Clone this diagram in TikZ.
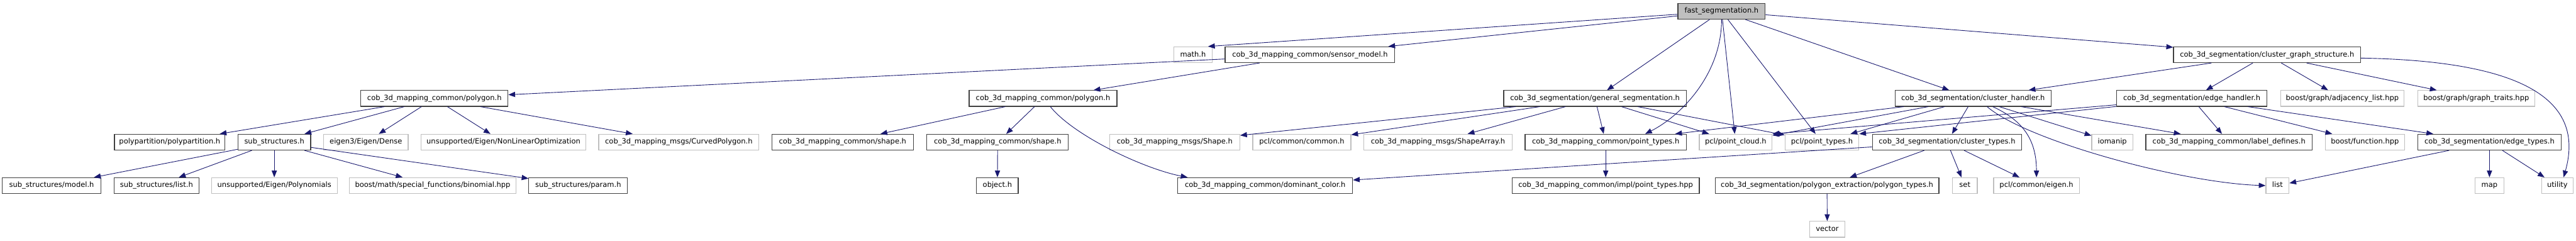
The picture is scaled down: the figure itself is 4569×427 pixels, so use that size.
\documentclass[tikz,border=0pt]{standalone}
\usepackage{fontspec}
\setmainfont{DejaVu Sans}
\usepackage{tikz}
\usetikzlibrary{arrows.meta,calc}
\definecolor{edgeblue}{HTML}{191970}
\definecolor{extgray}{HTML}{BFBFBF}
\definecolor{docgray}{HTML}{404040}

\begin{document}
\begin{tikzpicture}[x=0.5pt,y=-0.5pt,
  doc/.style={draw=docgray,line width=0.65pt,fill=white,minimum height=14pt,inner sep=1pt,
    font=\fontsize{6.4pt}{7.7pt}\selectfont,text height=4.8pt,text depth=1.4pt},
  ext/.style={doc,draw=extgray},
  wd/.style={minimum width=#1*0.5pt},
  edge/.style={draw=edgeblue,line width=0.5pt,-{Triangle[length=6pt,width=4.6pt]}}]
  \path[use as bounding box,fill=white] (0,0) rectangle (4569,427);

  \node[doc,wd=155,fill=extgray] (fastseg) at (3053.5,20) {fast\_segmentation.h};

  \node[ext,wd=68] (mathh) at (2116,97) {math.h};
  \node[doc,wd=301] (sensormodel) at (2323.5,97) {cob\_3d\_mapping\_common/sensor\_model.h};
  \node[doc,wd=332] (clustergraph) at (4021,97) {cob\_3d\_segmentation/cluster\_graph\_structure.h};

  \node[doc,wd=261] (polygonA) at (770.5,174.5) {cob\_3d\_mapping\_common/polygon.h};
  \node[doc,wd=262] (polygonB) at (1850,174.5) {cob\_3d\_mapping\_common/polygon.h};
  \node[doc,wd=324] (gensegm) at (2829,174.5) {cob\_3d\_segmentation/general\_segmentation.h};
  \node[doc,wd=277] (clusterhandler) at (3499.5,174.5) {cob\_3d\_segmentation/cluster\_handler.h};
  \node[doc,wd=267] (edgehandler) at (3887.5,174.5) {cob\_3d\_segmentation/edge\_handler.h};
  \node[ext,wd=219] (adjlist) at (4154.5,174.5) {boost/graph/adjacency\_list.hpp};
  \node[ext,wd=208] (graphtraits) at (4392,174.5) {boost/graph/graph\_traits.hpp};

  \node[doc,wd=196] (polypart) at (301,252) {polypartition/polypartition.h};
  \node[doc,wd=129] (substruct) at (486.5,252) {sub\_structures.h};
  \node[ext,wd=150] (eigendense) at (649,252) {eigen3/Eigen/Dense};
  \node[ext,wd=292] (nonlinopt) at (893,252) {unsupported/Eigen/NonLinearOptimization};
  \node[ext,wd=284] (curvedpoly) at (1204,252) {cob\_3d\_mapping\_msgs/CurvedPolygon.h};
  \node[doc,wd=251] (shapeA) at (1494.5,252) {cob\_3d\_mapping\_common/shape.h};
  \node[doc,wd=251] (shapeB) at (1769.5,252) {cob\_3d\_mapping\_common/shape.h};
  \node[ext,wd=231] (msgshape) at (2083.5,252) {cob\_3d\_mapping\_msgs/Shape.h};
  \node[ext,wd=174] (pclcommon) at (2309,252) {pcl/common/common.h};
  \node[ext,wd=263] (shapearray) at (2550.5,252) {cob\_3d\_mapping\_msgs/ShapeArray.h};
  \node[doc,wd=286] (pointtypes) at (2848,252) {cob\_3d\_mapping\_common/point\_types.h};
  \node[ext,wd=129] (pclcloud) at (3078.5,252) {pcl/point\_cloud.h};
  \node[ext,wd=131] (pcltypes) at (3231.5,252) {pcl/point\_types.h};
  \node[doc,wd=265] (clustertypes) at (3453.5,252) {cob\_3d\_segmentation/cluster\_types.h};
  \node[ext,wd=73] (iomanip) at (3746.5,252) {iomanip};
  \node[doc,wd=295] (labeldefs) at (3953.5,252) {cob\_3d\_mapping\_common/label\_defines.h};
  \node[ext,wd=141] (boostfunc) at (4194.5,252) {boost/function.hpp};
  \node[doc,wd=255] (edgetypes) at (4415.5,252) {cob\_3d\_segmentation/edge\_types.h};

  \node[doc,wd=175] (ssmodel) at (91.5,329) {sub\_structures/model.h};
  \node[doc,wd=151] (sslist) at (277.5,329) {sub\_structures/list.h};
  \node[ext,wd=223] (polynomials) at (486.5,329) {unsupported/Eigen/Polynomials};
  \node[ext,wd=295] (binomial) at (767.5,329) {boost/math/special\_functions/binomial.hpp};
  \node[doc,wd=175] (ssparam) at (1025.5,329) {sub\_structures/param.h};
  \node[doc,wd=74] (objecth) at (1769,329) {object.h};
  \node[doc,wd=310] (domcolor) at (2244,329) {cob\_3d\_mapping\_common/dominant\_color.h};
  \node[doc,wd=332] (implpoint) at (2848,329) {cob\_3d\_mapping\_common/impl/point\_types.hpp};
  \node[doc,wd=397] (polytypes) at (3240.5,329) {cob\_3d\_segmentation/polygon\_extraction/polygon\_types.h};
  \node[ext,wd=44] (seth) at (3485,329) {set};
  \node[ext,wd=152] (pcleigen) at (3612,329) {pcl/common/eigen.h};
  \node[ext,wd=41] (listh) at (4039.5,329) {list};
  \node[ext,wd=51] (maph) at (4415.5,329) {map};
  \node[ext,wd=56] (utilityh) at (4536,329) {utility};

  \node[ext,wd=62] (vectorh) at (3241,406.5) {vector};

  \foreach \a/\b in {fastseg/sensormodel,fastseg/gensegm,fastseg/pclcloud,
      fastseg/pcltypes,fastseg/clusterhandler,fastseg/clustergraph,
      sensormodel/polygonA,sensormodel/polygonB,
      polygonA/polypart,polygonA/substruct,polygonA/eigendense,polygonA/nonlinopt,polygonA/curvedpoly,
      substruct/ssmodel,substruct/sslist,substruct/polynomials,substruct/binomial,substruct/ssparam,
      polygonB/shapeA,polygonB/shapeB,shapeB/objecth,
      gensegm/msgshape,gensegm/pclcommon,gensegm/shapearray,gensegm/pointtypes,gensegm/pclcloud,gensegm/pcltypes,
      pointtypes/implpoint,
      clusterhandler/pointtypes,clusterhandler/pclcloud,clusterhandler/pcltypes,clusterhandler/clustertypes,
      clusterhandler/iomanip,clusterhandler/labeldefs,
      clustergraph/clusterhandler,clustergraph/edgehandler,clustergraph/adjlist,clustergraph/graphtraits,
      edgehandler/labeldefs,edgehandler/boostfunc,edgehandler/edgetypes,
      clustertypes/domcolor,clustertypes/seth,clustertypes/pcleigen,clustertypes/polytypes,
      polytypes/vectorh,edgetypes/listh,edgetypes/maph,edgetypes/utilityh}
    \draw[edge] (\a) -- (\b);
  \draw[edge] (fastseg) -- ($(mathh.north east)+(-8,0)$);
  \draw[edge] (edgehandler) -- (pclcloud.north east);
  \draw[edge] (edgehandler) -- (pcltypes.north east);

  \draw[edge] (fastseg.south) .. controls +(0,100) and +(60,-30) .. ($(pointtypes.north)+(70,0)$);
  \draw[edge] ($(polygonB.south)+(13,0)$) .. controls +(42,52) and +(-77,-15) .. ($(domcolor.north west)+(18,0)$);
  \draw[edge] ($(clusterhandler.south)+(35,0)$) .. controls +(55,25) and +(0,-65) .. (pcleigen.north);
  \draw[edge] ($(clusterhandler.south)+(25,0)$) .. controls +(70,60) and +(-150,-5) .. (listh.west);
  \draw[edge] ($(clustergraph.east)+(0,6)$) .. controls +(293,5) and +(38,-135) .. ($(utilityh.north)+(11,0)$);
\end{tikzpicture}
\end{document}
